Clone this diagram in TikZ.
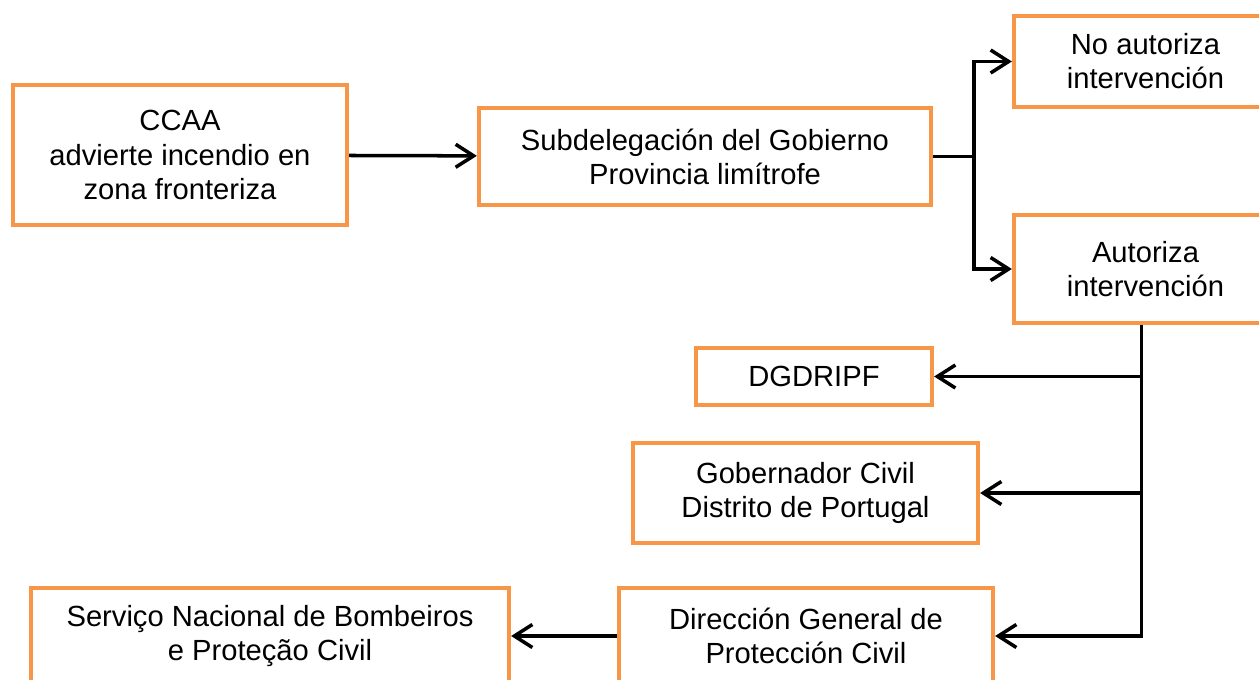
\documentclass[tikz,border=0pt]{standalone}
\usepackage{fontspec}
\setmainfont{Liberation Sans}
\usetikzlibrary{arrows.meta}
\definecolor{boxorange}{RGB}{247,150,70}
\tikzset{
	box/.style 2 args={draw=boxorange,line width=2.4pt,align=center,inner sep=0pt,
		minimum width=#1*0.02cm,minimum height=#2*0.02cm,
		font=\fontsize{16.6}{19.4}\selectfont},
	link/.style={line width=2pt,black},
	arr/.style={link,-{Straight Barb[length=0.36cm,width=0.46cm,line width=2pt]}}
}
\begin{document}
\begin{tikzpicture}[x=0.02cm,y=-0.02cm]
	\useasboundingbox (0,0) rectangle (1259,680);

	\node [box={334}{140}] (ccaa) at (180,155) {CCAA\\advierte incendio en\\zona fronteriza};
	\node [box={452}{97}] (subdel) at (705,156.5) {Subdelegación del Gobierno\\Provincia limítrofe};

	\node [box={263}{91}] (noaut) at (1145.5,61.5) {No autoriza\\intervención};
	\node [box={263}{108}] (aut) at (1145.5,269) {Autoriza\\intervención};

	\node [box={236}{57}] (dgdripf) at (814,376.5) {DGDRIPF};
	\node [box={345}{100}] (gob) at (805.5,493) {Gobernador Civil\\Distrito de Portugal};
	\node [box={374}{96}] (dgpc) at (806,636) {Dirección General de\\Protección Civil};
	\node [box={478}{96}] (serv) at (270,636) {Serviço Nacional de Bombeiros\\e Proteção Civil};

	\draw [arr] (ccaa) -- (subdel);

	\draw [link] (subdel.east) -- ++(41,0) coordinate (split);
	\draw [arr] (split) |- (noaut.west);
	\draw [arr] (split) |- (aut.west);

	\draw [link] (aut.south) ++(-4,0) coordinate (drop) -- ++(0,40);
	\draw [arr] (drop) |- (dgdripf.east);
	\draw [arr] (drop) |- (gob.east);
	\draw [arr] (drop) |- (dgpc.east);

	\draw [arr] (dgpc) -- (serv);
\end{tikzpicture}
\end{document}
